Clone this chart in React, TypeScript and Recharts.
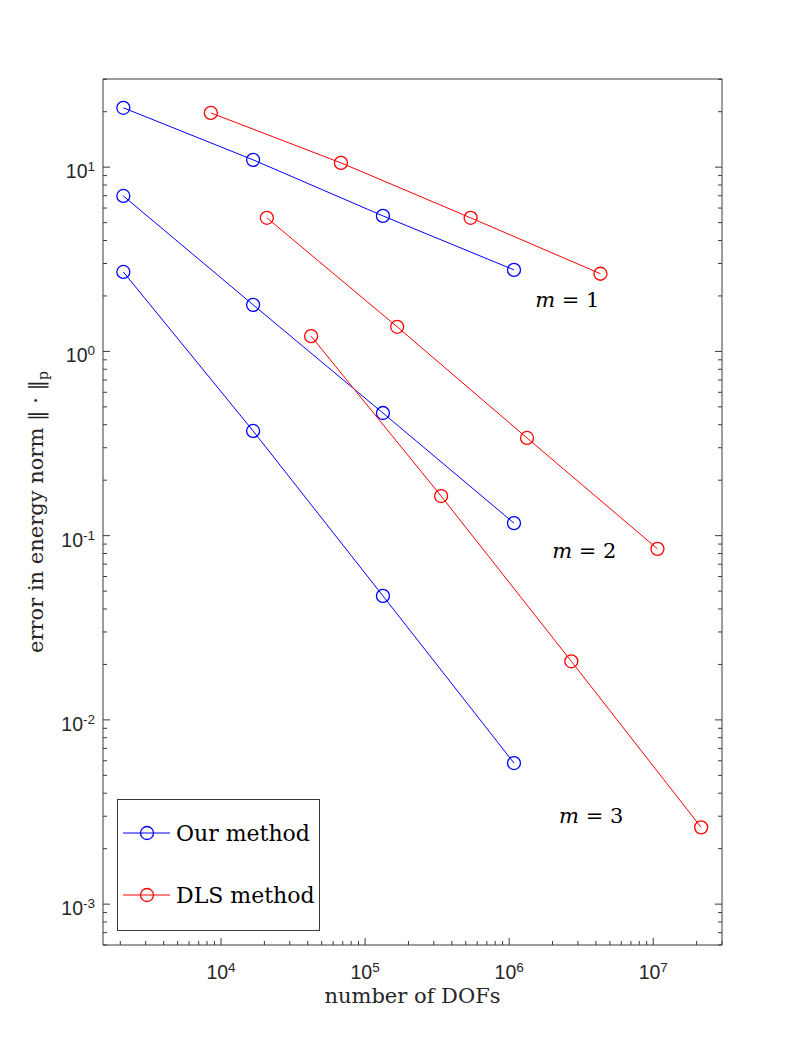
import React from "react";
import {
  ScatterChart,
  Scatter,
  XAxis,
  YAxis,
  Legend,
  ReferenceDot,
} from "recharts";

// DOFs (x) and energy-norm errors (y)
const ourDofs = [2100, 16700, 133000, 1080000];
const ourErrM1 = [21.0, 10.96, 5.44, 2.77];
const ourErrM2 = [6.98, 1.79, 0.463, 0.117];
const ourErrM3 = [2.7, 0.37, 0.0471, 0.00583];

const dlsDofsM1 = [8500, 68000, 540000, 4300000];
const dlsErrM1 = [19.7, 10.55, 5.31, 2.64];
const dlsDofsM2 = [20800, 167000, 1330000, 10700000];
const dlsErrM2 = [5.31, 1.36, 0.339, 0.0848];
const dlsDofsM3 = [42200, 337000, 2700000, 21500000];
const dlsErrM3 = [1.21, 0.164, 0.0208, 0.00261];

const xDomain = [1517, 3.0e7];
const yDomain = [6.0e-4, 30.1];

const mLabels = [
  { x: 2.53e6, y: 1.9, m: "1" },
  { x: 3.32e6, y: 0.0826, m: "2" },
  { x: 3.71e6, y: 0.003, m: "3" },
];

const methods = [
  { name: "Our method", color: "#0000ff" },
  { name: "DLS method", color: "#ff0000" },
];

// 1..9 x 10^e inside the domain: majors get a label, the rest are minor ticks
const logTicks = (lo: number, hi: number) => {
  const out: number[] = [];
  for (let e = -5; e <= 8; e++) {
    for (let k = 1; k <= 9; k++) {
      const v = k * Math.pow(10, e);
      if (v >= lo && v <= hi) out.push(v);
    }
  }
  return out;
};
const xTicks = logTicks(xDomain[0], xDomain[1]);
const yTicks = logTicks(yDomain[0], yDomain[1]);

const zip = (xs: number[], ys: number[]) => xs.map((x, i) => ({ x, y: ys[i] }));

const series = [
  { data: zip(ourDofs, ourErrM1), color: methods[0].color },
  { data: zip(ourDofs, ourErrM2), color: methods[0].color },
  { data: zip(ourDofs, ourErrM3), color: methods[0].color },
  { data: zip(dlsDofsM1, dlsErrM1), color: methods[1].color },
  { data: zip(dlsDofsM2, dlsErrM2), color: methods[1].color },
  { data: zip(dlsDofsM3, dlsErrM3), color: methods[1].color },
];

const AX = "#3a3a3a";
const TXT = "#262626";
const SERIF = "'DejaVu Serif', serif";
const SANS = "'Liberation Sans', Arial, sans-serif";

const exp10 = (v: number) => Math.round(Math.log10(v));
const isMajor = (v: number) => Math.abs(Math.log10(v) - exp10(v)) < 1e-9;

function BottomTick({ x, y, payload }: any) {
  const major = isMajor(payload.value);
  return (
    <g>
      <line x1={x} x2={x} y1={y} y2={y - (major ? 7 : 4)} stroke={AX} />
      {major && (
        <text x={x} y={y + 34} textAnchor="middle" fontFamily={SANS} fontSize={19.5} fill={TXT}>
          10<tspan dy={-7} fontSize={13.5}>{exp10(payload.value)}</tspan>
        </text>
      )}
    </g>
  );
}

function TopTick({ x, y, payload }: any) {
  const major = isMajor(payload.value);
  return <line x1={x} x2={x} y1={y} y2={y + (major ? 7 : 4)} stroke={AX} />;
}

function LeftTick({ x, y, payload }: any) {
  const major = isMajor(payload.value);
  return (
    <g>
      <line x1={x} x2={x + (major ? 7 : 4)} y1={y} y2={y} stroke={AX} />
      {major && (
        <text x={x - 8} y={y + 11} textAnchor="end" fontFamily={SANS} fontSize={19.5} fill={TXT}>
          10<tspan dy={-7} fontSize={13.5}>{exp10(payload.value)}</tspan>
        </text>
      )}
    </g>
  );
}

function RightTick({ x, y, payload }: any) {
  const major = isMajor(payload.value);
  return <line x1={x} x2={x - (major ? 7 : 4)} y1={y} y2={y} stroke={AX} />;
}

const marker = (color: string) => (props: any) => (
  <circle cx={props.cx} cy={props.cy} r={6.5} fill="none" stroke={color} strokeWidth={1.3} />
);

function LegendBox() {
  return (
    <svg width={203} height={132} style={{ display: "block" }}>
      <rect x={0.5} y={0.5} width={202} height={131} fill="#fff" stroke={AX} />
      {methods.map((m, i) => {
        const cy = 34 + i * 62;
        return (
          <g key={m.name}>
            <line x1={6} x2={53} y1={cy} y2={cy} stroke={m.color} />
            <circle cx={30} cy={cy} r={6.5} fill="none" stroke={m.color} strokeWidth={1.3} />
            <text x={59} y={cy + 8} fontFamily={SERIF} fontSize={22} fill="#000">
              {m.name}
            </text>
          </g>
        );
      })}
    </svg>
  );
}

export default function App() {
  return (
    <div style={{ position: "absolute", left: 0, top: 0, width: 798, height: 1063, background: "#fff" }}>
      <ScatterChart width={798} height={1063} margin={{ top: 78, right: 75, bottom: 78, left: 43 }}>
        <XAxis
          dataKey="x"
          type="number"
          scale="log"
          domain={xDomain}
          allowDataOverflow
          ticks={xTicks}
          interval={0}
          tickSize={0}
          tickMargin={0}
          tickLine={false}
          tick={<BottomTick />}
          height={40}
          axisLine={{ stroke: AX }}
          label={{
            content: ({ viewBox }: any) => (
              <text
                x={viewBox.x + viewBox.width / 2}
                y={viewBox.y + 58}
                textAnchor="middle"
                fontFamily={SERIF}
                fontSize={21}
                fill={TXT}
              >
                number of DOFs
              </text>
            ),
          }}
        />
        <XAxis
          xAxisId="t"
          orientation="top"
          type="number"
          scale="log"
          domain={xDomain}
          allowDataOverflow
          ticks={xTicks}
          interval={0}
          tickSize={0}
          tickMargin={0}
          tickLine={false}
          tick={<TopTick />}
          height={1}
          axisLine={{ stroke: AX }}
        />
        <YAxis
          dataKey="y"
          type="number"
          scale="log"
          domain={yDomain}
          allowDataOverflow
          ticks={yTicks}
          interval={0}
          tickSize={0}
          tickMargin={0}
          tickLine={false}
          tick={<LeftTick />}
          width={60}
          axisLine={{ stroke: AX }}
          label={{
            content: ({ viewBox }: any) => {
              const cy = viewBox.y + viewBox.height / 2;
              return (
                <text
                  x={43}
                  y={cy}
                  transform={`rotate(-90, 43, ${cy})`}
                  textAnchor="middle"
                  fontFamily={SERIF}
                  fontSize={21}
                  fill={TXT}
                >
                  error in energy norm ‖ · ‖<tspan dy={5} fontSize={14}>p</tspan>
                </text>
              );
            },
          }}
        />
        <YAxis
          yAxisId="r"
          orientation="right"
          type="number"
          scale="log"
          domain={yDomain}
          allowDataOverflow
          ticks={yTicks}
          interval={0}
          tickSize={0}
          tickMargin={0}
          tickLine={false}
          tick={<RightTick />}
          width={1}
          axisLine={{ stroke: AX }}
        />
        {series.map((s, i) => (
          <Scatter
            key={i}
            data={s.data}
            line={{ stroke: s.color, strokeWidth: 1 }}
            shape={marker(s.color)}
            isAnimationActive={false}
          />
        ))}
        {mLabels.map((l) => (
          <ReferenceDot
            key={l.m}
            x={l.x}
            y={l.y}
            r={0}
            fill="none"
            stroke="none"
            label={{
              content: ({ viewBox }: any) => (
                <text
                  x={viewBox.x + viewBox.width / 2}
                  y={viewBox.y + viewBox.height / 2 + 7}
                  textAnchor="middle"
                  fontFamily={SERIF}
                  fontSize={21}
                  fill="#000"
                >
                  <tspan fontStyle="italic">m</tspan> = {l.m}
                </text>
              ),
            }}
          />
        ))}
        <Legend
          layout="horizontal"
          verticalAlign="middle"
          align="center"
          content={() => <LegendBox />}
          wrapperStyle={{ position: "absolute", left: 117, top: 799, width: 203, height: 132 }}
        />
      </ScatterChart>
    </div>
  );
}
